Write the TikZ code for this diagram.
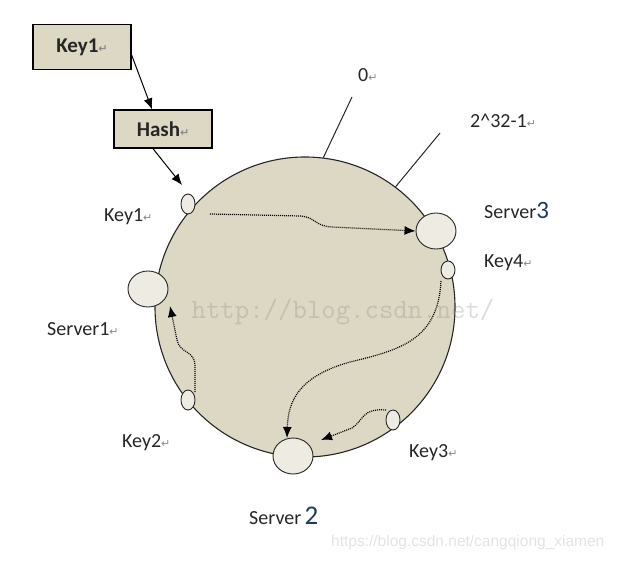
\documentclass[tikz,border=0pt]{standalone}
\usepackage{fontspec}
\setmainfont{Carlito}
\newfontfamily\retfont{DejaVu Sans}
\newfontfamily\wmsans{Liberation Sans}
\usetikzlibrary{shapes.geometric,arrows.meta}
\definecolor{beige}{HTML}{DDD8C4}
\definecolor{pale}{HTML}{EEECE2}
\definecolor{retgray}{HTML}{8A8A8A}
\definecolor{digitblue}{HTML}{1F3A66}
\newcommand{\retmark}{{\retfont\fontsize{11}{11}\selectfont\color{retgray}↵}}
\tikzset{
  keybox/.style={draw=black, line width=1.3pt, fill=beige, inner sep=0pt, font=\fontsize{21}{21}\selectfont\bfseries, text=black!85},
  ring/.style={circle, draw=black!85, line width=1.1pt, fill=beige, minimum size=300pt, inner sep=0pt},
  keyov/.style={ellipse, draw=black!85, line width=0.9pt, fill=pale, minimum width=14pt, minimum height=20pt, inner sep=0pt},
  servov/.style={ellipse, draw=black!85, line width=0.9pt, fill=pale, minimum width=40pt, minimum height=36pt, inner sep=0pt},
  lbl/.style={anchor=west, inner sep=0pt, font=\fontsize{20}{20}\selectfont, text=black!85},
  solidarrow/.style={line width=1pt, -{Latex[length=11pt,width=9pt]}},
  dotarrow/.style={line width=1.2pt, dash pattern=on 1pt off 1pt, -{Latex[length=11pt,width=9pt]}},
  tick/.style={line width=1pt, black!85}
}
\begin{document}
\begin{tikzpicture}[x=1pt,y=-1pt]
\useasboundingbox (0,0) rectangle (620,561);
% boxes
\node[keybox, minimum width=98pt, minimum height=45pt] (key1box) at (82,47) {Key1\retmark};
\node[keybox, minimum width=98pt, minimum height=38pt] (hashbox) at (163,129) {Hash\retmark};
% ring
\node[ring] (ring) at (305,307) {};
% ticks
\coordinate (t0) at (352,97);
\coordinate (t1) at (440,133);
\draw[tick] (ring.83.5) -- (t0);
\draw[tick] (ring.53.6) -- (t1);
\node[lbl] (zero) at (358,75) {0\retmark};
\node[lbl] (maxv) at (470,121) {2\^{}32-1\retmark};
% watermark in ring
\node[inner sep=0pt, font=\ttfamily\fontsize{28}{28}\selectfont, text=gray, opacity=0.28] (wm) at (343,312) {http://blog.csdn.net/};
% key / server ovals
\node[keyov] (k1) at (188,204) {};
\node[servov] (s3) at (436,231) {};
\node[keyov, minimum height=18pt] (k4) at (448,270) {};
\node[servov] (s1) at (148,289) {};
\node[keyov] (k2) at (188,400) {};
\node[keyov] (k3) at (393,420) {};
\node[servov] (s2) at (293,456) {};
% labels
\node[lbl] (lk1) at (104,217) {Key1\retmark};
\node[lbl] (ls3) at (484,210) {Server{\fontsize{25}{25}\selectfont\color{digitblue}3}};
\node[lbl] (lk4) at (484,263) {Key4\retmark};
\node[lbl] (ls1) at (47,329) {Server1\retmark};
\node[lbl] (lk2) at (122,443) {Key2\retmark};
\node[lbl] (lk3) at (409,453) {Key3\retmark};
\node[lbl] (ls2) at (249,516) {Server\,{\fontsize{27}{27}\selectfont\color{digitblue}2}};
% solid arrows
\coordinate (hin) at (182,185);
\draw[solidarrow] (key1box.east) ++(0,8) -- (hashbox.north -| 152,0);
\draw[solidarrow] (hashbox.south) ++(-10,0) -- (hin);
% dotted arrows
\coordinate (p1s) at (210,214);
\coordinate (p2s) at (441,281);
\coordinate (p2e) at (287,438);
\coordinate (p3s) at (386,410);
\coordinate (p3e) at (321,440);
\coordinate (p4s) at (195,392);
\coordinate (p4e) at (170,306);
\draw[dotarrow] (p1s) -- (300,216) .. controls (316,217) and (314,226) .. (332,227) -- (s3.west);
\draw[dotarrow] (p2s) .. controls (438,340) and (400,350) .. (350,362) .. controls (300,376) and (288,400) .. (p2e);
\draw[dotarrow] (p3s) .. controls (362,408) and (364,420) .. (352,428) -- (p3e);
\draw[dotarrow] (p4s) -- (195,366) .. controls (195,350) and (180,354) .. (177,340) -- (p4e);
% bottom watermark
\node[inner sep=0pt, anchor=west, font=\wmsans\fontsize{15.5}{15.5}\selectfont, text=black!11] (wm2) at (331,542) {https://blog.csdn.net/cangqiong\_xiamen};
\end{tikzpicture}
\end{document}
